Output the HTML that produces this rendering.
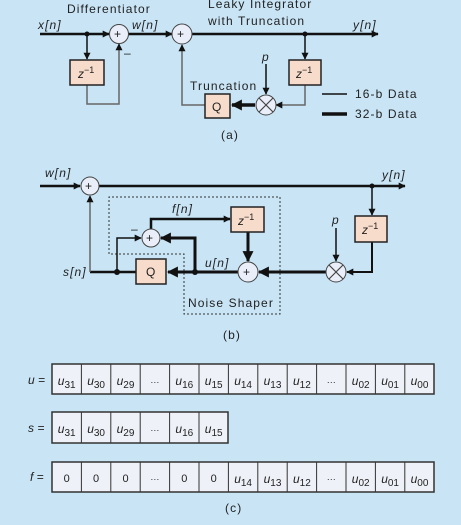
<!DOCTYPE html>
<html><head><style>
html,body{margin:0;padding:0;background:#c8e4f5;}
svg{display:block;}
text{font-family:"Liberation Sans",sans-serif;fill:#222;}
.i{font-style:italic;}
.ls{letter-spacing:1.1px;}
</style></head><body>
<svg width="461" height="525" viewBox="0 0 461 525" xmlns="http://www.w3.org/2000/svg">
<defs>
<marker id="a" viewBox="0 0 10 10" refX="9" refY="5" markerWidth="7" markerHeight="7" markerUnits="userSpaceOnUse" orient="auto"><path d="M0,0L10,5L0,10z" fill="#111"/></marker>
<marker id="ab" viewBox="0 0 10 10" refX="9" refY="5" markerWidth="11" markerHeight="11" markerUnits="userSpaceOnUse" orient="auto"><path d="M0,0L10,5L0,10z" fill="#111"/></marker>
</defs>
<rect width="461" height="525" fill="#c8e4f5"/>
<!-- (a) -->
<g stroke="#111" stroke-width="2.5" fill="none">
<line x1="40" y1="34" x2="109" y2="34" marker-end="url(#a)"/>
<line x1="128" y1="34" x2="172" y2="34" marker-end="url(#a)"/>
<line x1="192" y1="34" x2="378" y2="34" marker-end="url(#a)"/>
<line x1="255" y1="105" x2="232" y2="105" stroke-width="3.5" marker-end="url(#ab)"/>
<line x1="322" y1="114" x2="347" y2="114" stroke-width="3.5"/>
</g>
<g stroke="#666" stroke-width="1.5" fill="none">
<line x1="87" y1="34" x2="87" y2="59" stroke="#111" marker-end="url(#a)"/>
<polyline points="87,85 87,104 119,104 119,44" marker-end="url(#a)"/>
<line x1="305" y1="34" x2="305" y2="59" stroke="#111" marker-end="url(#a)"/>
<polyline points="305,85 305,105 276,105" marker-end="url(#a)"/>
<line x1="266" y1="64" x2="266" y2="94" stroke="#111" marker-end="url(#a)"/>
<polyline points="205,105 182,105 182,45" marker-end="url(#a)"/>
<line x1="322" y1="94" x2="347" y2="94" stroke="#111"/>
</g>
<circle cx="87" cy="34" r="2.5" fill="#111"/><circle cx="305" cy="34" r="2.5" fill="#111"/>
<g stroke="#444" stroke-width="1" fill="#e9eef8">
<circle cx="119" cy="34" r="9.5"/><circle cx="182" cy="34" r="10"/>
<circle cx="266" cy="105" r="10"/>
</g>
<path d="M259,98L273,112M273,98L259,112" stroke="#444" stroke-width="1.2"/>
<g stroke="#222" stroke-width="1.5" fill="#f8dccb">
<rect x="70" y="60" width="34" height="25"/><rect x="289" y="60" width="32" height="25"/>
<rect x="205" y="94" width="25" height="24"/>
</g>
<g font-size="12">
<text x="114" y="38">+</text><text x="177" y="38">+</text>
<text x="124" y="57">–</text>
<text x="67" y="13" class="ls">Differentiator</text>
<text x="208" y="8" class="ls">Leaky Integrator</text>
<text x="208" y="25" class="ls">with Truncation</text>
<text x="38" y="29" class="i ls">x[n]</text><text x="132" y="29" class="i ls">w[n]</text><text x="353" y="29" class="i ls">y[n]</text>
<text x="78" y="78" class="i">z<tspan font-style="normal" font-size="9" dy="-5">−1</tspan></text>
<text x="296" y="78" class="i">z<tspan font-style="normal" font-size="9" dy="-5">−1</tspan></text>
<text x="262" y="61" class="i">p</text>
<text x="190" y="90" class="ls">Truncation</text>
<text x="212" y="111">Q</text>
<text x="355" y="98" class="ls">16-b Data</text><text x="355" y="118" class="ls">32-b Data</text>
<text x="221" y="139" class="ls">(a)</text>
</g>
<!-- (b) -->
<path d="M109,254L109,197L280,197L280,314L184,314L184,254Z" fill="none" stroke="#333" stroke-width="1" stroke-dasharray="2,2"/>
<g stroke="#111" stroke-width="2.5" fill="none">
<line x1="40" y1="186" x2="80" y2="186" marker-end="url(#a)"/>
<line x1="99" y1="186" x2="405" y2="186" marker-end="url(#a)"/>
<line x1="326" y1="272" x2="259" y2="272" stroke-width="3" marker-end="url(#ab)"/>
<line x1="238" y1="272" x2="168" y2="272" stroke-width="3" marker-end="url(#ab)"/>
<polyline points="195,272 195,238 161,238" stroke-width="3" marker-end="url(#ab)"/>
<polyline points="151,229 151,219 230,219" marker-end="url(#a)"/>
<line x1="248" y1="232" x2="248" y2="261" stroke-width="3" marker-end="url(#ab)"/>
<polyline points="136,272 90,272"/>
</g>
<g stroke="#666" stroke-width="1.5" fill="none">
<line x1="90" y1="272" x2="90" y2="196" marker-end="url(#a)"/>
<polyline points="117,272 117,238 141,238" stroke="#111" marker-end="url(#a)"/>
<line x1="372" y1="186" x2="372" y2="215" stroke="#111" marker-end="url(#a)"/>
<polyline points="372,242 372,272 347,272" stroke="#111" stroke-width="2" marker-end="url(#a)"/>
<line x1="336" y1="228" x2="336" y2="261" stroke="#111" marker-end="url(#a)"/>
</g>
<circle cx="372" cy="186" r="2.5" fill="#111"/><circle cx="195" cy="272" r="3" fill="#111"/><circle cx="117" cy="272" r="3" fill="#111"/>
<g stroke="#444" stroke-width="1" fill="#e9eef8">
<circle cx="90" cy="186" r="9"/><circle cx="151" cy="238" r="9"/><circle cx="248" cy="272" r="10"/><circle cx="336" cy="272" r="10"/>
</g>
<path d="M329,265L343,279M343,265L329,279" stroke="#444" stroke-width="1.2"/>
<g stroke="#222" stroke-width="1.5" fill="#f8dccb">
<rect x="355" y="216" width="32" height="26"/><rect x="231" y="207" width="33" height="25"/>
<rect x="136" y="259" width="30" height="25"/>
</g>
<g font-size="12">
<text x="85" y="190">+</text><text x="146" y="242">+</text><text x="243" y="276">+</text>
<text x="131" y="233">–</text>
<text x="45" y="177" class="i ls">w[n]</text><text x="382" y="179" class="i ls">y[n]</text>
<text x="63" y="276" class="i ls">s[n]</text><text x="172" y="213" class="i ls">f[n]</text><text x="205" y="267" class="i ls">u[n]</text>
<text x="332" y="224" class="i">p</text>
<text x="362" y="234" class="i">z<tspan font-style="normal" font-size="9" dy="-5">−1</tspan></text>
<text x="238" y="225" class="i">z<tspan font-style="normal" font-size="9" dy="-5">−1</tspan></text>
<text x="146" y="276">Q</text>
<text x="188" y="307" class="ls">Noise Shaper</text>
<text x="223" y="339" class="ls">(b)</text>
</g>
<!-- (c) -->
<g font-size="12">
<text x="28" y="384" class="i">u =</text>
<text x="28" y="432" class="i">s =</text>
<text x="30" y="481" class="i">f =</text>
<text x="225" y="512" class="ls">(c)</text>
</g>
<g stroke="#333" stroke-width="1" fill="#eef1f8">
<rect x="52" y="364" width="382" height="30" stroke-width="1.5"/>
<rect x="52" y="412" width="176" height="31" stroke-width="1.5"/>
<rect x="52" y="462" width="382" height="30" stroke-width="1.5"/>
</g>
<g stroke="#333" stroke-width="1">
<path d="M81.4,364v30M110.8,364v30M140.2,364v30M169.6,364v30M199,364v30M228.4,364v30M257.8,364v30M287.2,364v30M316.6,364v30M346,364v30M375.4,364v30M404.8,364v30"/>
<path d="M81.4,412v31M110.8,412v31M140.2,412v31M169.6,412v31M199,412v31"/>
<path d="M81.4,462v30M110.8,462v30M140.2,462v30M169.6,462v30M199,462v30M228.4,462v30M257.8,462v30M287.2,462v30M316.6,462v30M346,462v30M375.4,462v30M404.8,462v30"/>
</g>
<g font-size="12" text-anchor="middle">
<g class="i">
<text x="66.7" y="385">u<tspan font-size="10" font-style="normal" dy="3">31</tspan></text>
<text x="96.1" y="385">u<tspan font-size="10" font-style="normal" dy="3">30</tspan></text>
<text x="125.5" y="385">u<tspan font-size="10" font-style="normal" dy="3">29</tspan></text>
<text x="184.3" y="385">u<tspan font-size="10" font-style="normal" dy="3">16</tspan></text>
<text x="213.7" y="385">u<tspan font-size="10" font-style="normal" dy="3">15</tspan></text>
<text x="243.1" y="385">u<tspan font-size="10" font-style="normal" dy="3">14</tspan></text>
<text x="272.5" y="385">u<tspan font-size="10" font-style="normal" dy="3">13</tspan></text>
<text x="301.9" y="385">u<tspan font-size="10" font-style="normal" dy="3">12</tspan></text>
<text x="360.7" y="385">u<tspan font-size="10" font-style="normal" dy="3">02</tspan></text>
<text x="390.1" y="385">u<tspan font-size="10" font-style="normal" dy="3">01</tspan></text>
<text x="419.5" y="385">u<tspan font-size="10" font-style="normal" dy="3">00</tspan></text>
<text x="66.7" y="433">u<tspan font-size="10" font-style="normal" dy="3">31</tspan></text>
<text x="96.1" y="433">u<tspan font-size="10" font-style="normal" dy="3">30</tspan></text>
<text x="125.5" y="433">u<tspan font-size="10" font-style="normal" dy="3">29</tspan></text>
<text x="184.3" y="433">u<tspan font-size="10" font-style="normal" dy="3">16</tspan></text>
<text x="213.7" y="433">u<tspan font-size="10" font-style="normal" dy="3">15</tspan></text>
<text x="243.1" y="483">u<tspan font-size="10" font-style="normal" dy="3">14</tspan></text>
<text x="272.5" y="483">u<tspan font-size="10" font-style="normal" dy="3">13</tspan></text>
<text x="301.9" y="483">u<tspan font-size="10" font-style="normal" dy="3">12</tspan></text>
<text x="360.7" y="483">u<tspan font-size="10" font-style="normal" dy="3">02</tspan></text>
<text x="390.1" y="483">u<tspan font-size="10" font-style="normal" dy="3">01</tspan></text>
<text x="419.5" y="483">u<tspan font-size="10" font-style="normal" dy="3">00</tspan></text>
</g>
<text x="154.9" y="385" font-size="9">···</text>
<text x="331.3" y="385" font-size="9">···</text>
<text x="154.9" y="433" font-size="9">···</text>
<text x="66.7" y="482" font-size="11">0</text>
<text x="96.1" y="482" font-size="11">0</text>
<text x="125.5" y="482" font-size="11">0</text>
<text x="154.9" y="482" font-size="9">···</text>
<text x="184.3" y="482" font-size="11">0</text>
<text x="213.7" y="482" font-size="11">0</text>
<text x="331.3" y="482" font-size="9">···</text>
</g>
</svg>
</body></html>
